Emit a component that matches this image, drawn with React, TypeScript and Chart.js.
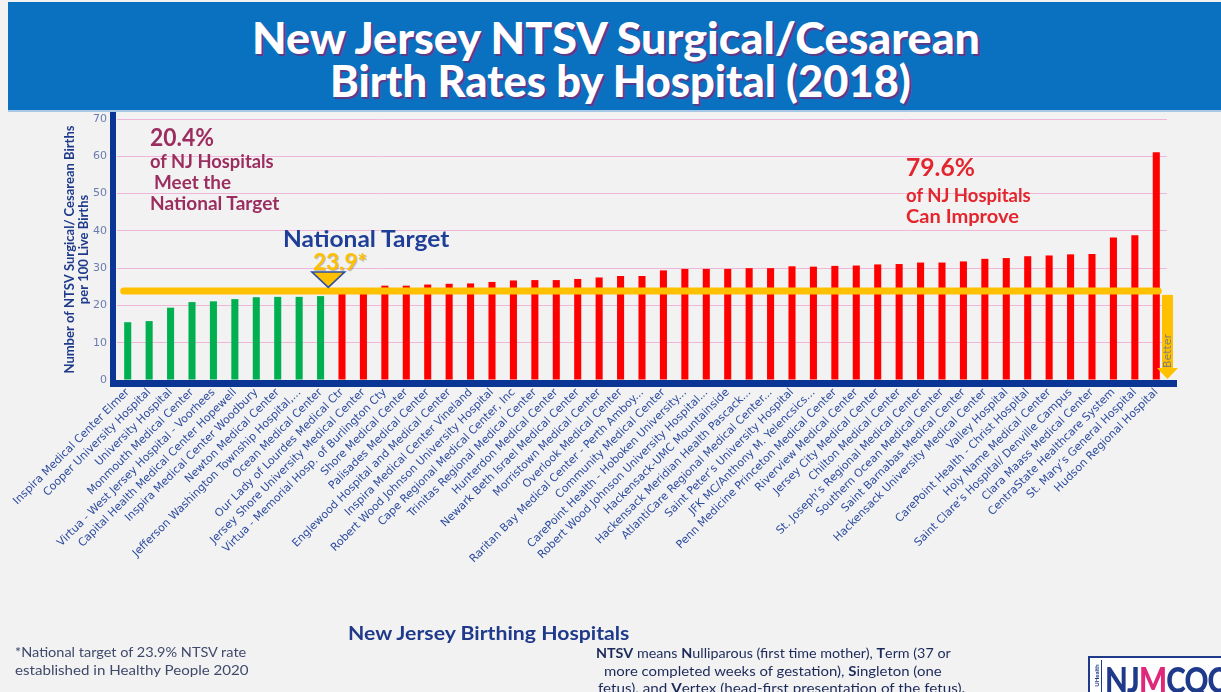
import React, { useEffect, useRef } from 'react';
import { Chart, registerables } from 'chart.js';

Chart.register(...registerables);

const hospitals: string[] = [
  'Inspira Medical Center Elmer',
  'Cooper University Hospital',
  'University Hospital',
  'Monmouth Medical Center',
  'Virtua - West Jersey Hospital - Voorhees',
  'Capital Health Medical Center Hopewell',
  'Inspira Medical Center Woodbury',
  'Newton Medical Center',
  'Jefferson Washington Township Hospital,...',
  'Ocean Medical Center',
  'Our Lady of Lourdes Medical Ctr',
  'Jersey Shore University Medical Center',
  'Virtua - Memorial Hosp. of Burlington Cty',
  'Shore Medical Center',
  'Palisades Medical Center',
  'Englewood Hospital and Medical Center',
  'Inspira Medical Center Vineland',
  'Robert Wood Johnson University Hospital',
  'Cape Regional Medical Center, Inc',
  'Trinitas Regional Medical Center',
  'Hunterdon Medical Center',
  'Newark Beth Israel Medical Center',
  'Morristown Medical Center',
  'Overlook Medical Center',
  'Raritan Bay Medical Center - Perth Amboy...',
  'Community Medical Center',
  'CarePoint Health - Hoboken University...',
  'Robert Wood Johnson University Hospital...',
  'Hackensack-UMC Mountainside',
  'Hackensack Meridian Health Pascack...',
  'AtlantiCare Regional Medical Center...',
  'Saint Peter\u2019s University Hospital',
  'JFK MC/Anthony M. Yelencsics...',
  'Penn Medicine Princeton Medical Center',
  'Riverview Medical Center',
  'Jersey City Medical Center',
  'Chilton Medical Center',
  'St. Joseph\u2019s Regional Medical Center',
  'Southern Ocean Medical Center',
  'Saint Barnabas Medical Center',
  'Hackensack University Medical Center',
  'Valley Hospital',
  'CarePoint Health - Christ Hospital',
  'Holy Name Medical Center',
  'Saint Clare\u2019s Hospital/ Denville Campus',
  'Clara Maass Medical Center',
  'CentraState Healthcare System',
  'St. Mary\u2019s General Hospital',
  'Hudson Regional Hospital',
];

const rates: number[] = [
  15.5, 15.8, 19.4, 20.9, 21.1, 21.7, 22.2, 22.3, 22.3, 22.5,
  24.2, 24.5, 25.3, 25.3, 25.6, 25.8, 25.9, 26.3, 26.7, 26.8,
  26.8, 27.1, 27.5, 27.9, 27.9, 29.4, 29.8, 29.8, 29.8, 30.0,
  30.0, 30.5, 30.4, 30.6, 30.7, 31.0, 31.1, 31.5, 31.5, 31.8,
  32.5, 32.7, 33.2, 33.4, 33.7, 33.8, 38.2, 38.8, 61.1,
];

const targetRate = 23.9;
const yMin = 0;
const yMax = 70;
const yStep = 10;
const yTitle = ['Number of NTSV Surgical/ Cesarean Births', 'per 100 Live Births'];

const GREEN = '#00b050';
const RED = '#ff0000';
const GOLD = '#ffc000';
const NAVY = '#0a3595';

let mctx: CanvasRenderingContext2D | null = null;
function measure(text: string, font: string): number {
  if (!mctx) mctx = document.createElement('canvas').getContext('2d');
  if (!mctx) return 0;
  mctx.font = font;
  return mctx.measureText(text).width;
}

type FitProps = {
  text: string;
  left: number;
  cy: number;
  width: number;
  size: number;
  weight?: number;
  family?: string;
  color: string;
  shadow?: string;
  children?: any;
};

function Fit({ text, left, cy, width, size, weight = 700, family = 'Lato', color, shadow, children }: FitProps) {
  const fam = family.includes(' ') ? `"${family}"` : family;
  const w = measure(text, `${weight} ${size}px ${fam}`) || width;
  const s = width / w;
  return (
    <div
      style={{
        position: 'absolute',
        left,
        top: cy - size / 2,
        height: size,
        lineHeight: `${size}px`,
        fontFamily: fam,
        fontSize: size,
        fontWeight: weight,
        whiteSpace: 'nowrap',
        color,
        textShadow: shadow,
        transform: `scaleX(${s})`,
        transformOrigin: '0 50%',
      }}
    >
      {children ?? text}
    </div>
  );
}

const overlay = {
  id: 'overlay',
  afterDatasetsDraw(chart: any) {
    const { ctx, chartArea: a, scales } = chart;
    const x = scales.x;
    const y = scales.y;
    const yT = y.getPixelForValue(targetRate);
    const x0 = x.getPixelForValue(0);
    const xN = x.getPixelForValue(hospitals.length - 1);
    const step = x.getPixelForValue(1) - x0;
    const meet = rates.filter((v) => v < targetRate).length;
    ctx.save();
    // target line
    ctx.strokeStyle = GOLD;
    ctx.lineWidth = 7;
    ctx.lineCap = 'round';
    ctx.beginPath();
    ctx.moveTo(x0 - 4, yT);
    ctx.lineTo(xN + 2, yT);
    ctx.stroke();
    // triangle marker
    const tx = x.getPixelForValue(meet - 1) + step * 0.36;
    ctx.beginPath();
    ctx.moveTo(tx - 16.5, yT - 19);
    ctx.lineTo(tx + 16.5, yT - 19);
    ctx.lineTo(tx, yT - 3.5);
    ctx.closePath();
    ctx.fillStyle = GOLD;
    ctx.fill();
    ctx.strokeStyle = '#2f4f9f';
    ctx.lineWidth = 1.5;
    ctx.stroke();
    // Better arrow
    const bl = a.right - 5;
    const br = a.right + 6;
    const headTop = a.bottom - 12;
    ctx.fillStyle = GOLD;
    ctx.fillRect(bl, yT + 4, br - bl, headTop - (yT + 4));
    ctx.beginPath();
    ctx.moveTo(bl - 5, headTop);
    ctx.lineTo(br + 5, headTop);
    ctx.lineTo((bl + br) / 2, a.bottom - 1);
    ctx.closePath();
    ctx.fill();
    ctx.save();
    ctx.translate((bl + br) / 2 + 0.5, a.bottom - 29);
    ctx.rotate(-Math.PI / 2);
    ctx.fillStyle = '#7f7f7f';
    ctx.font = '11px "DejaVu Sans"';
    ctx.textAlign = 'center';
    ctx.textBaseline = 'middle';
    ctx.fillText('Better', 0, 0);
    ctx.restore();
    // axes
    ctx.fillStyle = NAVY;
    ctx.fillRect(a.left - 7, 112, 6, a.bottom + 7 - 112);
    ctx.fillRect(a.left - 7, a.bottom, a.right + 10 - (a.left - 7), 7);
    ctx.restore();
  },
};

export default function App() {
  const ref = useRef<HTMLCanvasElement | null>(null);

  useEffect(() => {
    if (!ref.current) return;
    const chart = new Chart(ref.current, {
      type: 'bar',
      data: {
        labels: hospitals,
        datasets: [
          {
            data: rates,
            backgroundColor: rates.map((v) => (v < targetRate ? GREEN : RED)),
            barPercentage: 0.33,
            categoryPercentage: 1,
          },
        ],
      },
      options: {
        responsive: false,
        animation: false,
        devicePixelRatio: 1,
        layout: { padding: { top: 119, right: 54, bottom: 0, left: 0 } },
        plugins: {
          legend: { display: false },
          tooltip: { enabled: false },
          title: { display: false },
        },
        scales: {
          x: {
            grid: { display: false, drawTicks: false },
            border: { display: false },
            ticks: {
              autoSkip: false,
              minRotation: 45,
              maxRotation: 45,
              color: '#2d4c9e',
              font: { family: 'DejaVu Sans', size: 11 },
              padding: 6,
            },
            afterFit: (s: any) => {
              s.height = 312;
            },
          },
          y: {
            min: yMin,
            max: yMax,
            ticks: {
              stepSize: yStep,
              color: '#6b7bb0',
              font: { family: 'DejaVu Sans', size: 11 },
              padding: 10,
            },
            grid: { color: '#efb6d9', lineWidth: 1, drawTicks: false },
            border: { display: false },
            title: {
              display: true,
              text: yTitle,
              color: '#1f3a8a',
              font: { family: 'Lato', size: 13, weight: 'bold', lineHeight: 1.08 },
              padding: { top: 63, bottom: 0 },
            },
            afterFit: (s: any) => {
              s.width = 117;
            },
          },
        },
      } as any,
      plugins: [overlay],
    });
    return () => chart.destroy();
  }, []);

  const maroon = '#9b2d5f';
  const red = '#e3262d';
  const note = '#1c2a5a';
  const foot = '#3f4a6b';

  return (
    <div
      style={{
        position: 'fixed',
        left: 0,
        top: 0,
        width: 1221,
        height: 692,
        background: '#f2f2f2',
        overflow: 'hidden',
        fontFamily: 'Lato',
      }}
    >
      <div style={{ position: 'absolute', left: 8, top: 2, width: 1213, height: 108, background: '#0a70c0' }} />
      <div style={{ position: 'absolute', left: 8, top: 110, width: 1213, height: 2, background: '#a9c8e6' }} />
      <Fit text="New Jersey NTSV Surgical/Cesarean" left={252} cy={37} width={733} size={43} weight={900} color="#ffffff" shadow="2px 2px 0 #5b3a8c" />
      <Fit text="Birth Rates by Hospital (2018)" left={330} cy={80} width={582} size={43} weight={900} color="#ffffff" shadow="2px 2px 0 #5b3a8c" />

      <canvas ref={ref} width={1221} height={692} style={{ position: 'absolute', left: 0, top: 0, width: 1221, height: 692 }} />

      <Fit text="20.4%" left={150} cy={136} width={64} size={25} color={maroon} />
      <Fit text="of NJ Hospitals" left={150} cy={161} width={124} size={18} color={maroon} />
      <Fit text="Meet the" left={154} cy={182} width={77} size={18} color={maroon} />
      <Fit text="National Target" left={150} cy={203} width={130} size={18} color={maroon} />

      <Fit text="79.6%" left={906} cy={166} width={69} size={25} color={red} />
      <Fit text="of NJ Hospitals" left={906} cy={195} width={125} size={18} color={red} />
      <Fit text="Can Improve" left={906} cy={216} width={113} size={18} color={red} />

      <Fit text="National Target" left={283} cy={238} width={167} size={23} color="#1f3f97" />
      <Fit text="23.9*" left={313} cy={261} width={54} size={23} color={GOLD} shadow="1px 1px 1px rgba(0,0,0,0.25)" />

      <Fit text="New Jersey Birthing Hospitals" left={348} cy={633} width={283} size={18} color="#1f3a8a" />

      <Fit text="*National target of 23.9% NTSV rate" left={15} cy={652} width={232} size={13} weight={400} color={foot} />
      <Fit text="established in Healthy People 2020" left={15} cy={670} width={234} size={13} weight={400} color={foot} />

      <Fit text="NTSV means Nulliparous (first time mother), Term (37 or" left={596} cy={653} width={352} size={13} weight={400} color={note}>
        <b>NTSV</b> means <b>N</b>ulliparous (first time mother), <b>T</b>erm (37 or
      </Fit>
      <Fit text="more completed weeks of gestation), Singleton (one" left={604} cy={671} width={338} size={13} weight={400} color={note}>
        more completed weeks of gestation), <b>S</b>ingleton (one
      </Fit>
      <Fit text="fetus), and Vertex (head-first presentation of the fetus)." left={598} cy={688} width={366} size={13} weight={400} color={note}>
        fetus), and <b>V</b>ertex (head-first presentation of the fetus).
      </Fit>

      <div
        style={{
          position: 'absolute',
          left: 1088,
          top: 656,
          width: 150,
          height: 44,
          background: '#ffffff',
          border: '2px solid #1f3a8a',
          overflow: 'hidden',
        }}
      >
        <div
          style={{
            position: 'absolute',
            left: 1,
            top: 2,
            width: 10,
            height: 32,
            borderRight: '1px solid #1f3a8a',
          }}
        >
          <div
            style={{
              position: 'absolute',
              left: -10,
              top: 12,
              width: 30,
              fontSize: 6,
              fontWeight: 700,
              color: '#1f3a8a',
              transform: 'rotate(-90deg)',
              textAlign: 'center',
              fontFamily: 'Lato',
            }}
          >
            UHealth
          </div>
        </div>
        <div
          style={{
            position: 'absolute',
            left: 15,
            top: 3,
            fontFamily: 'Lato',
            fontWeight: 900,
            fontSize: 36,
            lineHeight: '36px',
            letterSpacing: -1,
            color: '#1f3a8a',
            whiteSpace: 'nowrap',
            transform: 'scaleX(0.82)',
            transformOrigin: '0 50%',
          }}
        >
          NJ<span style={{ color: '#e0287a' }}>M</span>CQC
        </div>
      </div>
    </div>
  );
}
